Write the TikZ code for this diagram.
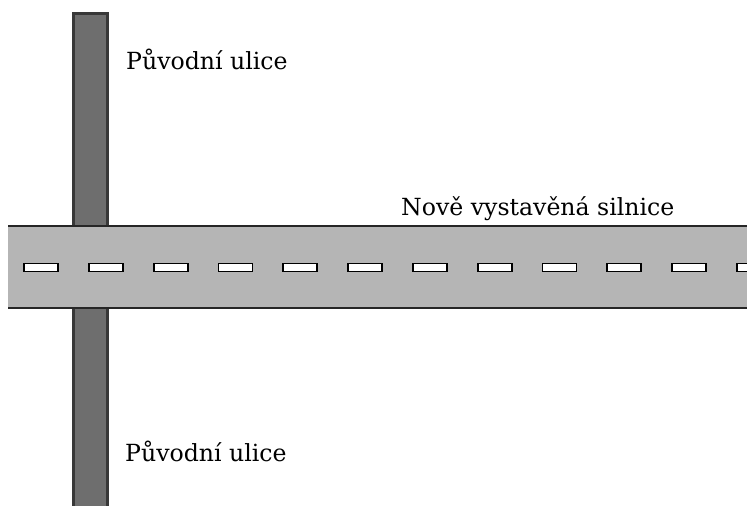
\documentclass[tikz,border=0pt]{standalone}
\usepackage{fontspec}
\setmainfont{DejaVu Serif}
\begin{document}
\begin{tikzpicture}[x=1pt,y=-1pt,
  vroad/.style={fill=black!57, draw=black!78, line width=3pt},
  hroad/.style={fill=black!29},
  edge/.style={draw=black!85, line width=2pt},
  dashbox/.style={fill=white, draw=black, line width=1.8pt},
  lbl/.style={font=\fontsize{23.6}{28}\selectfont, anchor=base west, inner sep=0pt, text=black}]
\useasboundingbox (0,0) rectangle (747,506);
% vertical original street
\path[vroad] (73.5,13) rectangle (107.5,520);
% horizontal new road
\path[hroad] (8,226) rectangle (760,308);
\draw[edge] (8,226) -- (760,226);
\draw[edge] (8,308) -- (760,308);
\foreach \i in {0,...,11}{
  \path[dashbox] ({24+64.8*\i},263.5) rectangle ++(34,8);
}
\node[lbl] (t1) at (126,69) {Původní ulice};
\node[lbl] (t2) at (125,461) {Původní ulice};
\node[lbl] (t3) at (401,215) {Nově vystavěná silnice};
\end{tikzpicture}
\end{document}
